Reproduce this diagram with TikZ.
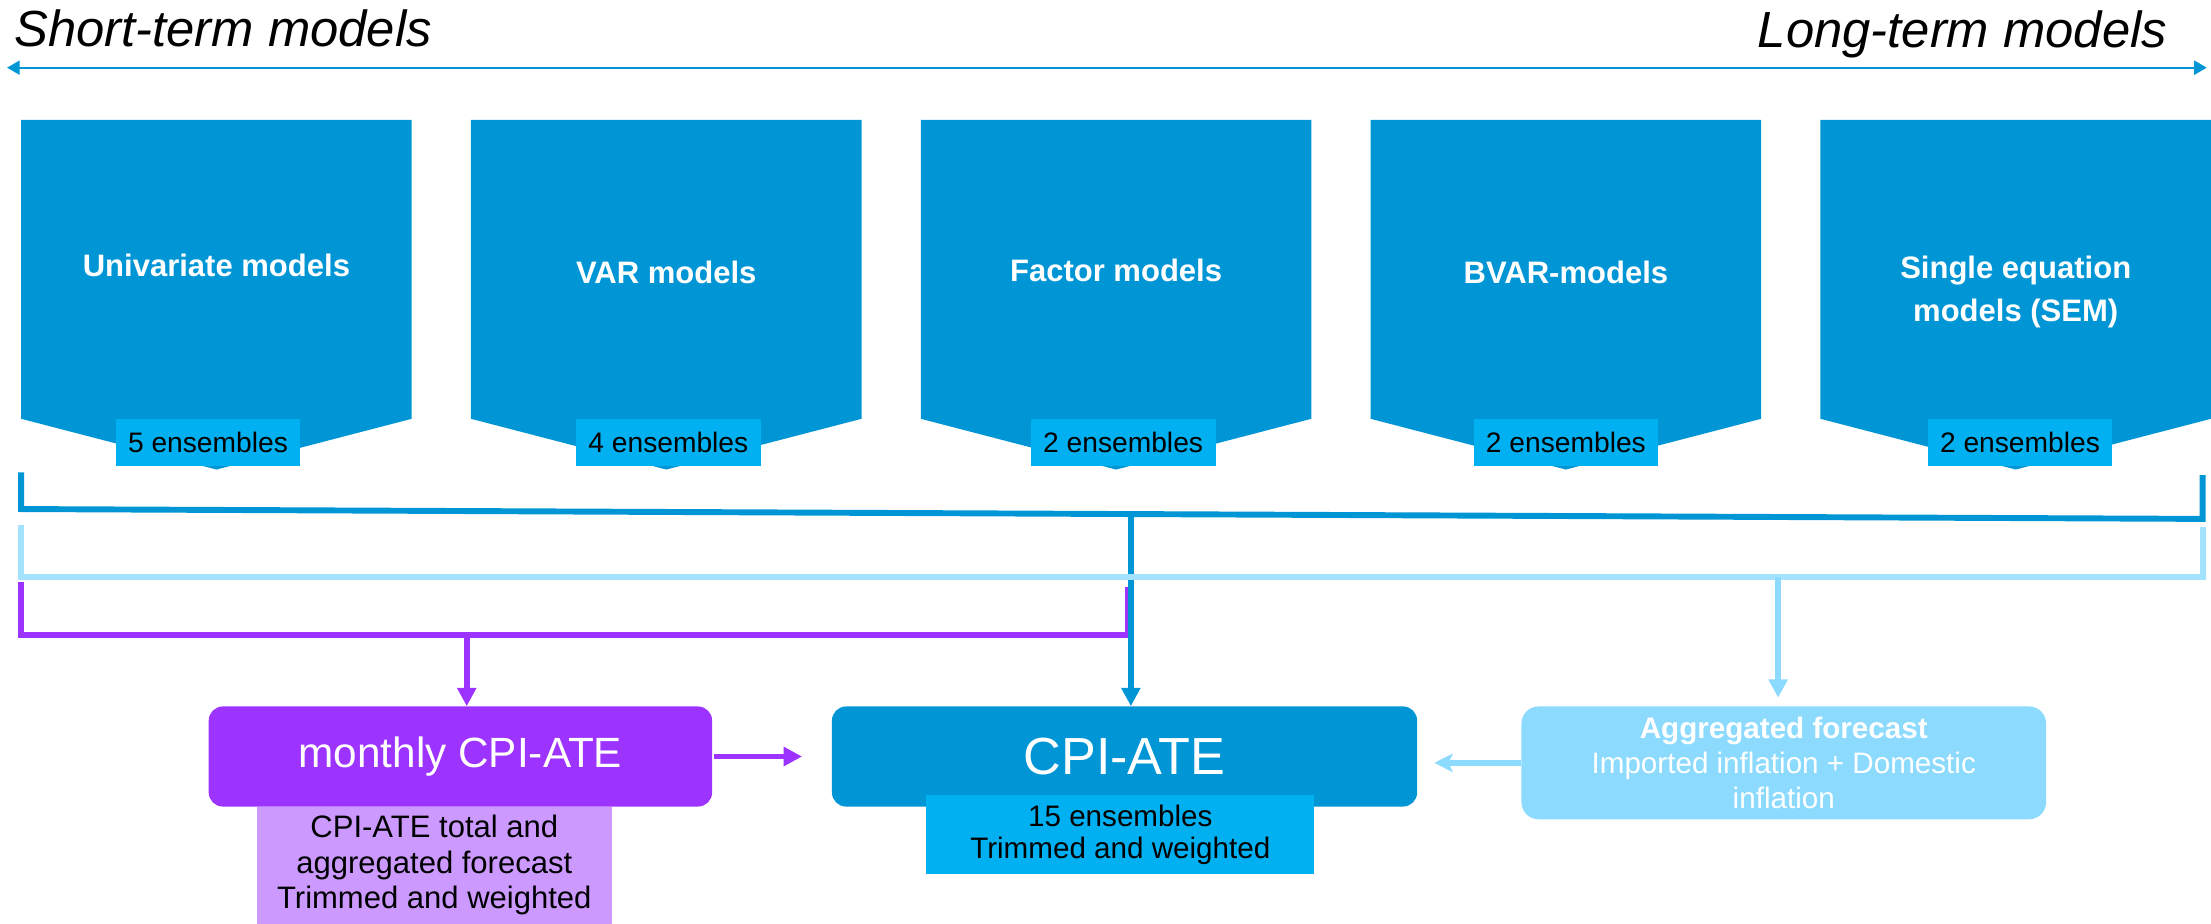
\documentclass[tikz,border=0pt]{standalone}
\usepackage{fontspec}
\setmainfont{Liberation Sans}
\usetikzlibrary{arrows.meta,calc}
\definecolor{mainblue}{HTML}{0096D6}
\definecolor{lblblue}{HTML}{00B0F0}
\definecolor{purp}{HTML}{9D33FF}
\definecolor{lpurp}{HTML}{CC99FF}
\definecolor{lblue}{HTML}{8CDBFF}
\definecolor{lbracket}{HTML}{A3E3FF}
\tikzset{
  chevtitle/.style={text=white, font=\fontsize{22}{30}\selectfont\bfseries, align=center, inner sep=0},
  enslabel/.style={fill=lblblue, text=black, minimum width=131, minimum height=33, inner sep=0,
    font=\fontsize{20}{24}\selectfont},
  bigbox/.style={rounded corners=10, minimum height=71, inner sep=0, text=white},
  subbox/.style={inner sep=0, text=black, align=center, font=\fontsize{22}{25}\selectfont},
  headtext/.style={inner sep=0, font=\fontsize{36}{40}\selectfont\itshape},
  bracket/.style={line width=4.2},
  downarrow/.style={line width=4, -{Triangle[length=13,width=13]}},
}
\begin{document}
\begin{tikzpicture}[x=1pt,y=-1pt]
\useasboundingbox (0,0) rectangle (1568,655);

% header
\node[headtext, anchor=base west] (short) at (10,33) {Short-term models};
\node[headtext, anchor=base east] (long) at (1537,34) {Long-term models};
\coordinate (al) at (5,48);
\coordinate (ar) at (1565,48);
\draw[mainblue, line width=1.5, {Triangle[length=9,width=10]}-{Triangle[length=9,width=10]}] (al) -- (ar);

% chevrons
\foreach \i/\L/\t/\e/\dx/\ty in {1/15/{Univariate models}/{5 ensembles}/-6/188,
                             2/334/{VAR models}/{4 ensembles}/1.5/193,
                             3/653/{Factor models}/{2 ensembles}/5/192,
                             4/972/{BVAR-models}/{2 ensembles}/0/193,
                             5/1291/{Single equation\\models (SEM)}/{2 ensembles}/3/207}{
  \fill[mainblue] (\L,85) -- ++(277,0) -- ++(0,212) -- ++(-138.5,36) -- ++(-138.5,-36) -- cycle;
  \node[chevtitle] (m\i) at (\L+138.5,\ty) {\t};
  \node[enslabel] (e\i) at (\L+138.5+\dx,314) {\e};
}

% bottom boxes
\node[bigbox, fill=purp, minimum width=357, font=\fontsize{30}{34}\selectfont] (mon) at (326.5,536.5) {monthly CPI-ATE};
\node[subbox, fill=lpurp, minimum width=252, minimum height=83] (monsub) at (308,613.5)
  {CPI-ATE total and\\aggregated forecast\\Trimmed and weighted};
\node[bigbox, fill=mainblue, minimum width=415, font=\fontsize{37}{40}\selectfont] (cpi) at (797.5,536.5) {CPI-ATE};
\node[subbox, fill=lblblue, minimum width=275, minimum height=56, font=\fontsize{21}{23}\selectfont] (cpisub) at (794.5,592)
  {15 ensembles\\Trimmed and weighted};
\node[bigbox, fill=lblue, rounded corners=12, minimum width=372, minimum height=80, align=center,
  font=\fontsize{21}{25}\selectfont] (agg) at (1265,541)
  {\textbf{Aggregated forecast}\\Imported inflation + Domestic\\inflation};

% bracket 3 (purple)
\coordinate (b3l) at (15,413);
\coordinate (b3r) at (800,416);
\coordinate (b3c) at (331,450);
\draw[purp, bracket] (b3l) -- (15,450) -- (800,450) -- (b3r);
\draw[purp, downarrow] (b3c) -- (b3c |- mon.north);

% bracket 1 (dark blue)
\coordinate (b1l) at (15,335);
\coordinate (b1r) at (1562,337);
\coordinate (b1c) at (802,364.5);
\draw[mainblue, bracket] (b1l) -- (15,361) -- (1562,368) -- (b1r);
\draw[mainblue, downarrow] (b1c) -- (b1c |- cpi.north);

% bracket 2 (light blue)
\coordinate (b2l) at (15,372);
\coordinate (b2r) at (1562,374);
\coordinate (b2c) at (1261,409);
\draw[lbracket, bracket] (b2l) -- (15,409) -- (1562,409) -- (b2r);
\draw[lblue, downarrow, shorten >=6] (b2c) -- (b2c |- agg.north);

% horizontal arrows
\draw[purp, line width=3.5, -{Triangle[length=13,width=13]}, shorten <=1, shorten >=21] (mon.east) -- (cpi.west);
\draw[lblue, line width=4.2, -{Stealth[length=13,width=13,inset=3]}, shorten >=12] (agg.west) -- (cpi.east |- agg.west);
\end{tikzpicture}
\end{document}
